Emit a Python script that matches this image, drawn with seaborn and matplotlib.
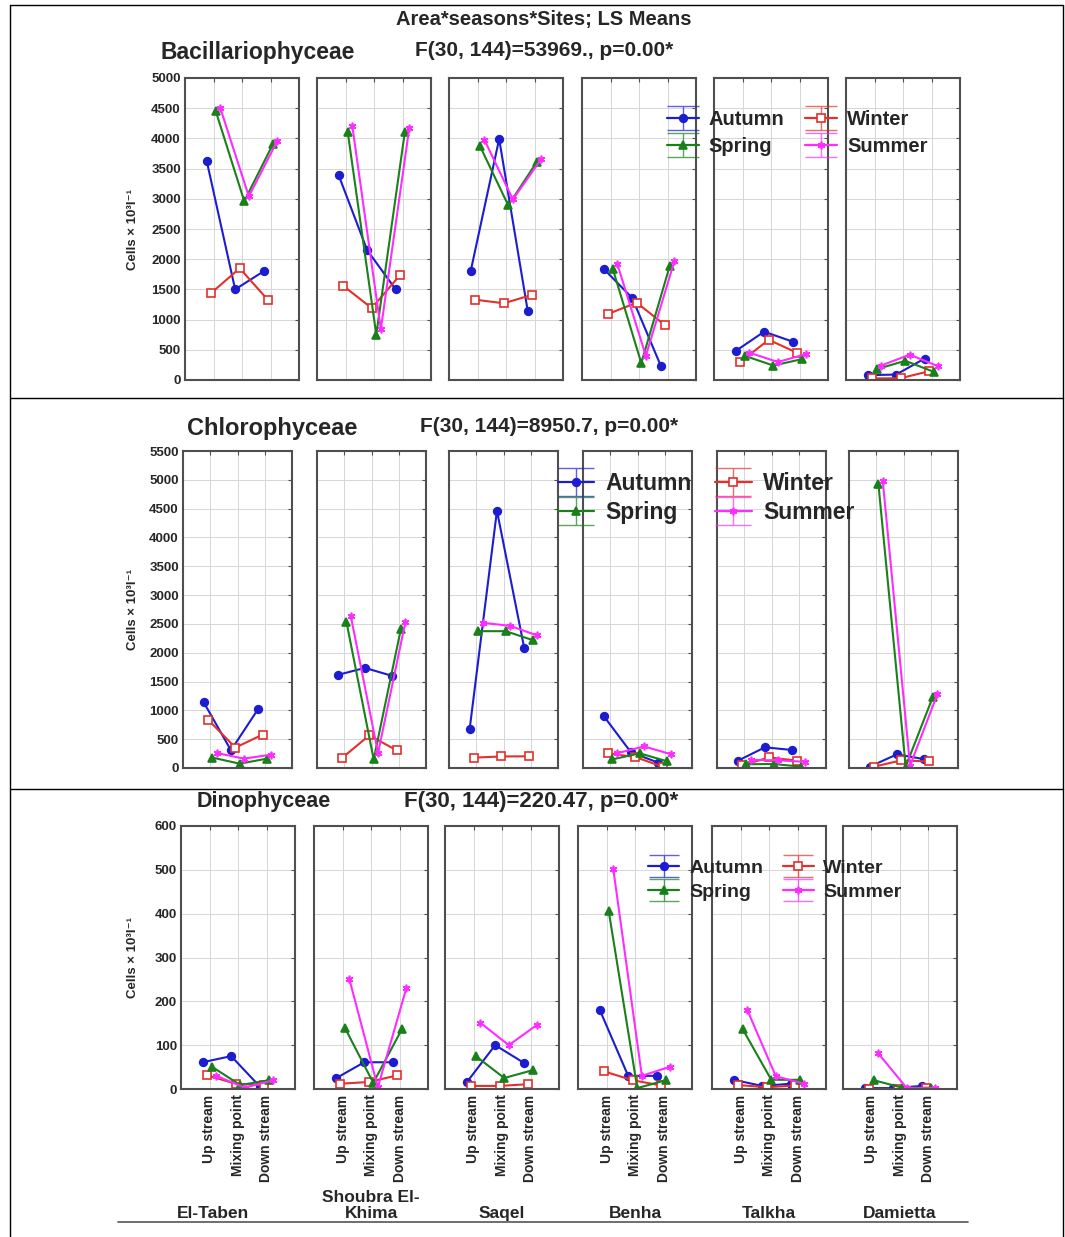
import numpy as np
import pandas as pd
import matplotlib
matplotlib.use("Agg")
import matplotlib.pyplot as plt
from matplotlib.lines import Line2D
from matplotlib.path import Path
from matplotlib.legend_handler import HandlerTuple
from matplotlib.transforms import blended_transform_factory
import seaborn as sns

# ---------------------------------------------------------------- data
SITES = ["El-Taben", "Shoubra El-\nKhima", "Saqel", "Benha", "Talkha", "Damietta"]
STATIONS = ["Up stream", "Mixing point", "Down stream"]
SEASONS = ["Autumn", "Winter", "Spring", "Summer"]

# Cells x 10^3 l^-1; three stations (up, mixing, down) for each site in SITES order
BAC_AUTUMN = [3630, 1500, 1800, 3390, 2150, 1500, 1800, 3990, 1150, 1840, 1360, 240, 480, 800, 635, 80, 90, 355]
BAC_WINTER = [1440, 1850, 1320, 1560, 1190, 1740, 1330, 1270, 1410, 1095, 1280, 905, 300, 665, 450, 25, 30, 145]
BAC_SPRING = [4450, 2960, 3900, 4100, 750, 4100, 3880, 2890, 3610, 1840, 280, 1890, 400, 240, 345, 180, 318, 135]
BAC_SUMMER = [4500, 3040, 3960, 4200, 840, 4180, 3980, 2990, 3660, 1920, 400, 1965, 453, 298, 430, 240, 420, 225]

CHL_AUTUMN = [1140, 307, 1025, 1615, 1737, 1598, 683, 4464, 2084, 902, 272, 93, 125, 359, 312, 23, 237, 153]
CHL_WINTER = [840, 353, 579, 174, 567, 307, 180, 200, 203, 254, 190, 23, 45, 185, 127, 23, 133, 113]
CHL_SPRING = [180, 75, 162, 2536, 150, 2415, 2374, 2374, 2218, 150, 254, 118, 65, 70, 23, 4922, 23, 1238]
CHL_SUMMER = [260, 162, 232, 2635, 260, 2525, 2519, 2467, 2299, 254, 375, 237, 139, 133, 107, 4980, 40, 1278]

DIN_AUTUMN = [61, 75, 6, 24, 61, 61, 15, 100, 60, 181, 30, 30, 21, 7, 12, 2, 2, 7]
DIN_WINTER = [31, 12, 9, 12, 16, 31, 7, 7, 11, 40, 20, 8, 9, 4, 8, 0, 0, 2]
DIN_SPRING = [51, 9, 20, 140, 14, 136, 75, 25, 43, 405, 2, 20, 136, 21, 21, 20, 3, 3]
DIN_SUMMER = [30, 3, 20, 251, 4, 230, 151, 100, 147, 501, 30, 51, 180, 29, 12, 81, 2, 2]

CLASSES = {
    "Bacillariophyceae": [BAC_AUTUMN, BAC_WINTER, BAC_SPRING, BAC_SUMMER],
    "Chlorophyceae": [CHL_AUTUMN, CHL_WINTER, CHL_SPRING, CHL_SUMMER],
    "Dinophyceae": [DIN_AUTUMN, DIN_WINTER, DIN_SPRING, DIN_SUMMER],
}
F_TEXTS = {
    "Bacillariophyceae": "F(30, 144)=53969., p=0.00*",
    "Chlorophyceae": "F(30, 144)=8950.7, p=0.00*",
    "Dinophyceae": "F(30, 144)=220.47, p=0.00*",
}

rows = []
for cls, series in CLASSES.items():
    for season, values in zip(SEASONS, series):
        for i, v in enumerate(values):
            rows.append(dict(cls=cls, season=season, site=SITES[i // 3],
                             station=STATIONS[i % 3], cells=v))
df = pd.DataFrame(rows)

# ---------------------------------------------------------------- style
sns.set_theme(style="white")
plt.rcParams["font.family"] = ["Liberation Sans", "DejaVu Sans"]
plt.rcParams["font.weight"] = "bold"

PALETTE = {"Autumn": "#1c1cd0", "Winter": "#e2302a", "Spring": "#1a801a", "Summer": "#ff2cff"}
MARKERS = ["o", "s", "^", (6, 2, 0)]
GRID = "#d6d6d6"
SPINE = "#4f4f4f"

W, H = 1065, 1237
fig = plt.figure(figsize=(W / 100, H / 100), dpi=100)


def fx(x):
    return x / W


def fy(y):
    return 1 - y / H


# panel geometry per class (pixels)
LAYOUT = {
    "Bacillariophyceae": dict(top=78, bottom=380, lefts=[185, 317, 449, 582, 714, 846], width=114,
                              ymax=5000, step=500, ylab_x=133,
                              title=(160, 52, 16.5), ftext=(415, 50, 15),
                              legend=(797, 133, 14.5, 23, 0.38)),
    "Chlorophyceae": dict(top=451, bottom=768, lefts=[183, 317, 449, 583, 717, 849], width=109,
                          ymax=5500, step=500, ylab_x=133,
                          title=(187, 428, 17), ftext=(420, 427, 15),
                          legend=(706, 498, 16.5, 26, 0.3)),
    "Dinophyceae": dict(top=826, bottom=1089, lefts=[181, 314, 445, 578, 712, 843], width=114,
                        ymax=600, step=100, ylab_x=133,
                        title=(197, 801, 15.5), ftext=(404, 801, 16),
                        legend=(775, 880, 14, 22, 0.3)),
}

# error-bar glyph used in the legend keys: vertical bar with wide caps
err_path = Path([(-1, -0.75), (1, -0.75), (0, -0.75), (0, 0.75), (-1, 0.75), (1, 0.75)],
                [Path.MOVETO, Path.LINETO, Path.MOVETO, Path.LINETO, Path.MOVETO, Path.LINETO])

last = list(CLASSES)[-1]
for cls in CLASSES:
    lay = LAYOUT[cls]
    sub_cls = df[df["cls"] == cls]
    for k, site in enumerate(SITES):
        left = lay["lefts"][k]
        ax = fig.add_axes([fx(left), fy(lay["bottom"]), lay["width"] / W,
                           (lay["bottom"] - lay["top"]) / H])
        sub = sub_cls[sub_cls["site"] == site]
        sns.pointplot(data=sub, x="station", y="cells", hue="season",
                      order=STATIONS, hue_order=SEASONS, palette=PALETTE,
                      markers=MARKERS, linestyles="-", dodge=0.48,
                      errorbar=None, legend=False, ax=ax,
                      linewidth=1.5, markersize=5.5, markeredgewidth=1.2)
        for ln in ax.lines:
            if ln.get_marker() == "s":
                ln.set_markerfacecolor("white")
        ax.set_xlim(-1, 3)
        ax.set_ylim(0, lay["ymax"])
        ax.set_yticks(np.arange(0, lay["ymax"] + 1, lay["step"]))
        ax.set_xticks(range(3))
        ax.grid(True, color=GRID, lw=0.7)
        ax.set_axisbelow(True)
        for sp in ax.spines.values():
            sp.set_color(SPINE)
            sp.set_linewidth(1.5)
        ax.tick_params(direction="in", length=3, width=0.8, color=SPINE,
                       top=True, right=True, labelsize=9.5, pad=3)
        ax.set_xlabel("")
        if k == 0:
            ax.set_ylabel("Cells × 10³l⁻¹", fontsize=9.5, fontweight="bold", va="center")
            ax.yaxis.set_label_coords((lay["ylab_x"] - left) / lay["width"], 0.5)
            for t in ax.get_yticklabels():
                t.set_fontweight("bold")
        else:
            ax.set_ylabel("")
            ax.tick_params(labelleft=False)
        if cls == last:
            ax.set_xticks(range(3), STATIONS, rotation=90, fontsize=10, fontweight="bold")
            ax.tick_params(axis="x", pad=4)
            xs = 0.28 if k == 0 else 0.5
            ax.text(xs, fy(1221), site,
                    transform=blended_transform_factory(ax.transAxes, fig.transFigure),
                    ha="center", va="bottom", fontsize=12.5, fontweight="bold", linespacing=1.1)
        else:
            ax.tick_params(labelbottom=False)

    # titles
    tx, ty, ts = lay["title"]
    fig.text(fx(tx), fy(ty), cls, ha="left", va="center", fontsize=ts, fontweight="bold")
    ftx, fty, fts = lay["ftext"]
    fig.text(fx(ftx), fy(fty), F_TEXTS[cls], ha="left", va="center", fontsize=fts, fontweight="bold")

    # legend with error-bar glyphs
    lx, ly, lfs, ems, lsp = lay["legend"]
    handles = {}
    for s, m in zip(SEASONS, MARKERS):
        c = PALETTE[s]
        mk = Line2D([], [], color=c, lw=1.6, marker=m, markersize=5.5,
                    markerfacecolor="white" if m == "s" else c, markeredgewidth=1.2)
        eb = Line2D([], [], color=c, lw=0, marker=err_path, markersize=ems,
                    markerfacecolor="none", markeredgecolor=c, markeredgewidth=1.0, alpha=0.7)
        handles[s] = (eb, mk)
    order = ["Autumn", "Spring", "Winter", "Summer"]
    fig.legend([handles[s] for s in order], order, loc="center",
               bbox_to_anchor=(fx(lx), fy(ly)), ncol=2, frameon=False,
               prop=dict(size=lfs, weight="bold"), handlelength=1.6,
               handletextpad=0.5, columnspacing=1.0, labelspacing=lsp,
               borderpad=0, handler_map={tuple: HandlerTuple(ndivide=1, pad=0)})

fig.text(fx(544), fy(20), "Area*seasons*Sites; LS Means", ha="center", va="center",
         fontsize=14.5, fontweight="bold")

# table frame around the three blocks
for (x0, y0, x1, y1, c, w) in [(10, 5, 1063, 5, "black", 1.0),
                               (10, 398, 1063, 398, "black", 1.0),
                               (10, 789, 1063, 789, "black", 1.0),
                               (10, 5, 10, 1237, "black", 1.0),
                               (1063, 5, 1063, 1237, "black", 1.0),
                               (118, 1222, 968, 1222, "#555555", 1.2)]:
    fig.add_artist(Line2D([fx(x0), fx(x1)], [fy(y0), fy(y1)], transform=fig.transFigure,
                          color=c, lw=w))

fig.savefig("out.png", dpi=100, facecolor="white")
